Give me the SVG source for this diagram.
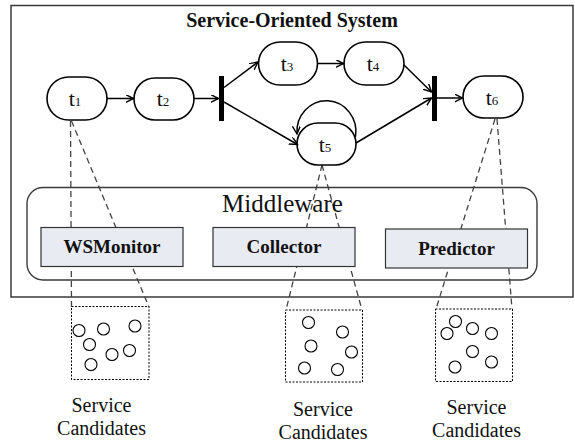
<svg xmlns="http://www.w3.org/2000/svg" width="575" height="442" viewBox="0 0 575 442">
  <style>
    .frame { fill: none; stroke: #3a3a3a; stroke-width: 1.5; }
    .mw { fill: none; stroke: #3a3a3a; stroke-width: 1.4; }
    .task { fill: #ffffff; stroke: #000; stroke-width: 1.6; }
    .bar { fill: #000; }
    .comp { fill: #e9ebf2; stroke: #333; stroke-width: 1.2; }
    .pool { fill: #fff; stroke: #000; stroke-width: 1; stroke-dasharray: 2 1.5; }
    .svc { fill: #fff; stroke: #000; stroke-width: 1.1; }
    .link { fill: none; stroke: #000; stroke-width: 1.5; }
    .map { fill: none; stroke: #444; stroke-width: 1.3; stroke-dasharray: 6 4; }
    text { font-family: 'Liberation Serif', 'DejaVu Serif', serif; fill: #111; }
    .title { font-size: 20px; font-weight: bold; }
    .tl { font-size: 22px; }
    .sub { font-size: 13px; }
    .cname { font-size: 19px; font-weight: bold; }
    .big { font-size: 25px; }
    .cap { font-size: 20px; }
  </style>
  <defs>
    <marker id="arrow" markerUnits="userSpaceOnUse" markerWidth="10" markerHeight="10" refX="8" refY="4" orient="auto">
      <path d="M0,0 L8,4 L0,8" fill="none" stroke="#000" stroke-width="1.4"/>
    </marker>
  </defs>

  <!-- outer system frame -->
  <rect class="frame" x="11" y="5.5" width="562" height="291.5"/>
  <text class="title" font-family="Liberation Serif, serif" x="292" y="27" text-anchor="middle">Service-Oriented System</text>

  <!-- mapping lines: tasks to service candidates -->
  <g id="mappings">
    <line class="map" x1="70.5" y1="121" x2="71.5" y2="307"/>
    <line class="map" x1="71.5" y1="121" x2="149" y2="307"/>
    <line class="map" x1="322" y1="165" x2="286" y2="310"/>
    <line class="map" x1="322" y1="165" x2="362" y2="310"/>
    <line class="map" x1="495" y1="119" x2="436" y2="309"/>
    <line class="map" x1="497" y1="119" x2="512" y2="309"/>
  </g>

  <!-- middleware layer -->
  <g id="middleware">
    <rect class="mw" x="27" y="187.5" width="510" height="92.5" rx="16"/>
    <text class="big" x="282.5" y="212" text-anchor="middle">Middleware</text>
  </g>
  <g id="wsmonitor">
    <rect class="comp" x="41" y="227.5" width="142" height="39"/>
    <text class="cname" x="112" y="253" text-anchor="middle">WSMonitor</text>
  </g>
  <g id="collector">
    <rect class="comp" x="213" y="227.5" width="142" height="39"/>
    <text class="cname" x="284" y="253" text-anchor="middle">Collector</text>
  </g>
  <g id="predictor">
    <rect class="comp" x="385.5" y="229" width="142" height="39"/>
    <text class="cname" x="456.5" y="254.5" text-anchor="middle">Predictor</text>
  </g>

  <!-- workflow tasks -->
  <g id="t1">
    <rect class="task" x="47" y="77" width="60" height="43" rx="21.5"/>
    <text class="tl" x="75" y="106" text-anchor="middle">t<tspan class="sub">1</tspan></text>
  </g>
  <g id="t2">
    <rect class="task" x="134" y="78" width="60" height="42" rx="21"/>
    <text class="tl" x="163" y="106" text-anchor="middle">t<tspan class="sub">2</tspan></text>
  </g>
  <g id="t3">
    <rect class="task" x="258.5" y="42" width="59" height="43" rx="21.5"/>
    <text class="tl" x="287" y="71" text-anchor="middle">t<tspan class="sub">3</tspan></text>
  </g>
  <g id="t4">
    <rect class="task" x="344" y="42" width="60" height="43" rx="21.5"/>
    <text class="tl" x="373" y="71" text-anchor="middle">t<tspan class="sub">4</tspan></text>
  </g>
  <g id="t5">
    <rect class="task" x="297" y="123" width="59" height="42" rx="21"/>
    <text class="tl" x="325" y="152" text-anchor="middle">t<tspan class="sub">5</tspan></text>
  </g>
  <g id="t6">
    <rect class="task" x="463" y="76" width="60" height="42" rx="21"/>
    <text class="tl" x="492" y="105" text-anchor="middle">t<tspan class="sub">6</tspan></text>
  </g>

  <!-- split / join bars -->
  <g id="split">
    <rect class="bar" x="219" y="76" width="5" height="45"/>
  </g>
  <g id="join">
    <rect class="bar" x="432" y="76" width="5" height="45"/>
  </g>

  <!-- control flow -->
  <g id="connectors">
    <line class="link" x1="107" y1="98.5" x2="133.5" y2="98.5" marker-end="url(#arrow)"/>
    <line class="link" x1="194" y1="98.5" x2="218.5" y2="98.5" marker-end="url(#arrow)"/>
    <line class="link" x1="224" y1="87.5" x2="258" y2="62" marker-end="url(#arrow)"/>
    <line class="link" x1="224" y1="102" x2="297.5" y2="144.5" marker-end="url(#arrow)"/>
    <line class="link" x1="317.5" y1="63.5" x2="343.5" y2="63.5" marker-end="url(#arrow)"/>
    <line class="link" x1="404" y1="65" x2="431.5" y2="92" marker-end="url(#arrow)"/>
    <line class="link" x1="356" y1="143" x2="431.5" y2="98" marker-end="url(#arrow)"/>
    <line class="link" x1="437" y1="98" x2="462.5" y2="98" marker-end="url(#arrow)"/>
    <path class="link" d="M355.5 137 A29.5 31 0 1 0 297 134" stroke-width="1.3" marker-end="url(#arrow)"/>
  </g>

  <!-- service candidate pools -->
  <g id="pool-1">
    <rect class="pool" x="71.5" y="306.5" width="77.5" height="73"/>
    <circle class="svc" cx="79" cy="330.5" r="6"/>
    <circle class="svc" cx="103.5" cy="329" r="6"/>
    <circle class="svc" cx="135" cy="326" r="6"/>
    <circle class="svc" cx="89.5" cy="344.5" r="6"/>
    <circle class="svc" cx="112" cy="354.5" r="6"/>
    <circle class="svc" cx="129.5" cy="350.5" r="6"/>
    <circle class="svc" cx="91" cy="364.5" r="6"/>
    <text class="cap" x="101.5" y="411.5" text-anchor="middle">Service</text>
    <text class="cap" x="101.5" y="434.5" text-anchor="middle">Candidates</text>
  </g>
  <g id="pool-2">
    <rect class="pool" x="285.5" y="310" width="77" height="72"/>
    <circle class="svc" cx="308.5" cy="322.5" r="6"/>
    <circle class="svc" cx="342.5" cy="332" r="6"/>
    <circle class="svc" cx="311" cy="346" r="6"/>
    <circle class="svc" cx="351.5" cy="352" r="6"/>
    <circle class="svc" cx="304.5" cy="368" r="6"/>
    <circle class="svc" cx="337.5" cy="369.5" r="6"/>
    <text class="cap" x="323" y="415.5" text-anchor="middle">Service</text>
    <text class="cap" x="323" y="438.5" text-anchor="middle">Candidates</text>
  </g>
  <g id="pool-3">
    <rect class="pool" x="435.5" y="309" width="77" height="72.5"/>
    <circle class="svc" cx="455.5" cy="321.5" r="6"/>
    <circle class="svc" cx="447" cy="333.5" r="6"/>
    <circle class="svc" cx="472.5" cy="328.5" r="6"/>
    <circle class="svc" cx="491.5" cy="333.5" r="6"/>
    <circle class="svc" cx="472.5" cy="351.5" r="6"/>
    <circle class="svc" cx="491.5" cy="362" r="6"/>
    <circle class="svc" cx="455" cy="367" r="6"/>
    <text class="cap" x="476.5" y="413.5" text-anchor="middle">Service</text>
    <text class="cap" x="476.5" y="436.5" text-anchor="middle">Candidates</text>
  </g>
</svg>
